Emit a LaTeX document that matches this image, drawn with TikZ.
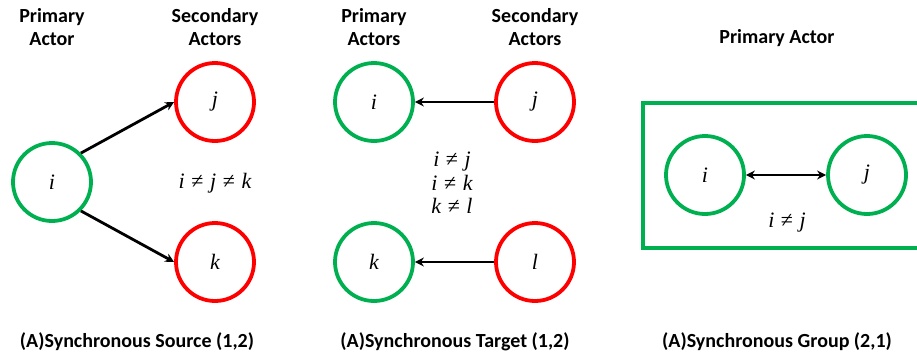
\documentclass[tikz,border=0pt]{standalone}
\usepackage{fontspec}
\setmainfont{Carlito}
\newfontfamily\varfont{Liberation Serif}
\usetikzlibrary{arrows.meta}
\definecolor{actgreen}{HTML}{00B050}
\definecolor{actred}{HTML}{FF0000}
% italic variable names and the not-equal sign set as text
\newcommand{\vn}[1]{{\varfont\itshape #1}}
\newcommand{\noteq}{{\varfont\hspace{0.3em}≠\hspace{0.3em}}}
\begin{document}
\begin{tikzpicture}[x=1pt,y=-1pt,
  actor/.style={circle,draw,line width=3.8pt,minimum size=78pt,inner sep=0pt,font=\fontsize{22}{22}\selectfont},
  primary/.style={actor,draw=actgreen},
  secondary/.style={actor,draw=actred},
  head/.style={font=\bfseries\fontsize{20}{23}\selectfont,align=center},
  caption/.style={font=\bfseries\fontsize{20}{22}\selectfont},
  cond/.style={font=\fontsize{22}{23.5}\selectfont,align=center},
  link/.style={line width=2.8pt,-{Stealth[length=9pt,width=9pt]}},
  twolink/.style={line width=2.8pt,{Stealth[length=9pt,width=9pt]}-{Stealth[length=9pt,width=9pt]}}]
\useasboundingbox (0,0) rectangle (917,360);

% Synchronous source
\node[head] (h1a) at (52,27) {Primary\\Actor};
\node[head] (h1b) at (215,27) {Secondary\\Actors};
\node[primary] (s1i) at (52,182) {\vn{i}};
\node[secondary] (s1j) at (215,102) {\vn{j}};
\node[secondary] (s1k) at (215,262) {\vn{k}};
\draw[link] (s1i.45) -- (s1j.west);
\draw[link] (s1i.-45) -- (s1k.west);
\node[cond] (c1) at (215,183) {\vn{i}\noteq\vn{j}\noteq\vn{k}};
\node[caption] (cap1) at (137,342) {(A)Synchronous Source (1,2)};

% Synchronous target
\node[head] (h2a) at (374,27) {Primary\\Actors};
\node[head] (h2b) at (535,27) {Secondary\\Actors};
\node[primary] (s2i) at (374,102) {\vn{i}};
\node[secondary] (s2j) at (535,102) {\vn{j}};
\node[primary] (s2k) at (374,262) {\vn{k}};
\node[secondary] (s2l) at (535,262) {\vn{l}};
\draw[link] (s2j.west) -- (s2i.east);
\draw[link] (s2l.west) -- (s2k.east);
\node[cond] (c2) at (452,183) {\vn{i}\noteq\vn{j}\\\vn{i}\noteq\vn{k}\\\vn{k}\noteq\vn{l}};
\node[caption] (cap2) at (455,342) {(A)Synchronous Target (1,2)};

% Synchronous group
\node[head] (h3) at (777,38) {Primary Actor};
\draw[actgreen,line width=3.8pt] (930,103) -- (643,103) -- (643,248) -- (930,248);
\node[primary] (s3i) at (705,175) {\vn{i}};
\node[primary] (s3j) at (867,175) {\vn{j}};
\draw[twolink] (s3i.east) -- (s3j.west);
\node[cond] (c3) at (787,223) {\vn{i}\noteq\vn{j}};
\node[caption] (cap3) at (777,342) {(A)Synchronous Group (2,1)};
\end{tikzpicture}
\end{document}
